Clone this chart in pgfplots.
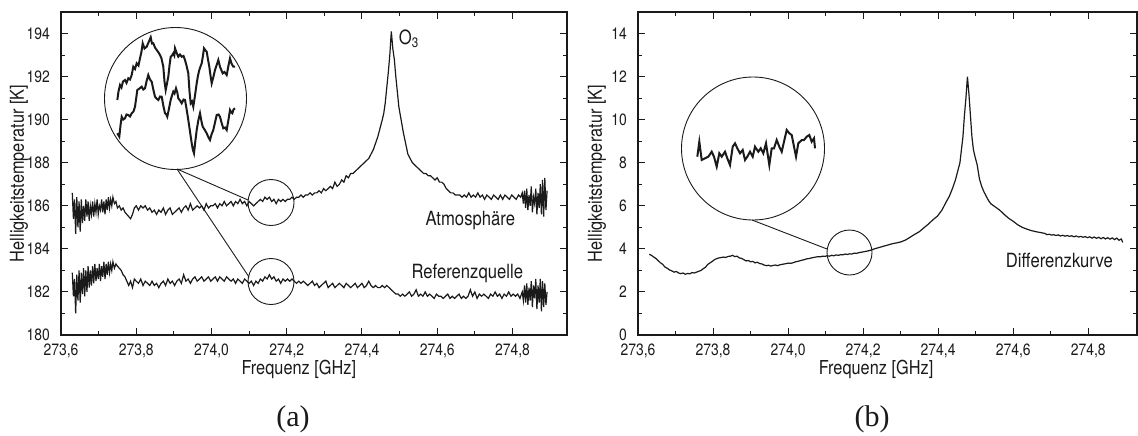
\documentclass[border=0pt]{standalone}
\usepackage{pgfplots}
\pgfplotsset{compat=1.18}
\usepackage{fontspec}
\setmainfont{TeX Gyre Heros}[FakeStretch=0.85]
\newfontfamily\seriffont{Liberation Serif}
\definecolor{ink}{HTML}{1A1A1A}
\pgfplotsset{
  panel/.style={
    scale only axis, anchor=south west,
    axis line style={line width=0.6pt, ink},
    every tick/.style={line width=0.5pt, ink},
    tick align=inside, major tick length=3.5pt, minor tick length=2pt,
    xtick pos=both, ytick pos=both,
    minor x tick num=1, minor y tick num=1,
    /pgf/number format/assume math mode=true,
    tick label style={font=\fontsize{8.2}{9}\selectfont, text=ink},
    yticklabel style={xshift=-2pt},
    xticklabel style={yshift=-1pt},
    label style={font=\fontsize{9.6}{11}\selectfont, text=ink},
    xmin=273.6, xmax=274.945,
    xtick={273.6,273.8,274.0,274.2,274.4,274.6,274.8},
    xticklabels={{273,6},{273,8},{274,0},{274,2},{274,4},{274,6},{274,8}},
    clip=true,
  },
  inset/.style={hide axis, scale only axis, anchor=south west, xmin=0, xmax=142, ymin=0, ymax=142, clip=false},
}
\begin{document}
\begin{tikzpicture}
\useasboundingbox (0,0) rectangle (569pt,217.5pt);
% ---------------- (a) ----------------
\begin{axis}[panel, at={(30.5pt,50pt)}, width=253pt, height=161.5pt,
  ymin=180, ymax=195, ytick={180,182,184,186,188,190,192,194},
  xlabel={Frequenz [GHz]}, ylabel={Helligkeitstemperatur [K]},
  xlabel style={at={(axis description cs:0.470,0)}, anchor=center, yshift=-17pt},
  ylabel style={at={(axis description cs:-0.083,0.5)}, anchor=center},
]
\addplot[ink, line width=0.6pt] coordinates {
(273.630,186.6)(273.633,185.4)(273.636,186.3)(273.639,184.7)(273.642,186.4)(273.645,185.0)(273.648,186.2)(273.651,184.8)
(273.654,186.3)(273.657,185.2)(273.660,186.0)(273.663,185.3)(273.666,186.3)(273.669,185.5)(273.672,186.2)(273.675,185.3)
(273.678,186.0)(273.681,185.6)(273.684,186.2)(273.687,185.5)(273.690,186.1)(273.693,185.7)(273.696,186.3)(273.699,185.6)
(273.702,186.0)(273.705,185.8)(273.708,186.3)(273.711,185.7)(273.714,186.2)(273.717,185.6)(273.720,186.3)(273.723,185.8)
(273.726,186.4)(273.729,185.9)(273.732,186.3)(273.735,186.0)(273.738,186.4)(273.742,186.1)(273.746,186.2)(273.750,185.9)
(273.755,186.0)(273.760,185.8)(273.765,185.9)(273.770,185.7)(273.775,185.6)(273.780,185.5)(273.785,185.4)(273.790,185.6)
(273.795,185.9)(273.800,186.0)(273.806,185.8)(273.812,186.0)(273.818,185.9)(273.824,186.0)(273.830,185.8)(273.836,185.9)
(273.842,185.7)(273.848,185.8)(273.854,185.6)(273.860,185.8)(273.866,185.7)(273.872,185.9)(273.878,185.6)(273.884,185.8)
(273.890,185.9)(273.896,185.6)(273.902,185.7)(273.908,185.8)(273.914,185.9)(273.920,185.7)(273.926,185.9)(273.932,186.0)
(273.938,185.8)(273.944,186.1)(273.950,185.8)(273.956,185.9)(273.962,186.0)(273.968,185.9)(273.974,186.0)(273.980,185.8)
(273.986,186.1)(273.992,185.9)(273.998,186.0)(274.004,186.0)(274.010,186.1)(274.016,185.9)(274.022,186.1)(274.028,186.0)
(274.034,186.2)(274.040,186.0)(274.046,186.1)(274.052,186.2)(274.058,186.0)(274.064,186.2)(274.070,186.1)(274.076,186.3)
(274.082,186.1)(274.088,186.2)(274.094,186.0)(274.100,186.2)(274.106,186.1)(274.112,186.0)(274.118,186.1)(274.124,186.2)
(274.130,186.3)(274.136,186.2)(274.142,186.4)(274.148,186.3)(274.154,186.4)(274.160,186.2)(274.166,186.3)(274.172,186.1)
(274.178,186.3)(274.184,186.2)(274.190,186.3)(274.196,186.2)(274.202,186.3)(274.208,186.3)(274.214,186.4)(274.220,186.3)
(274.226,186.4)(274.232,186.4)(274.238,186.5)(274.244,186.4)(274.250,186.5)(274.256,186.5)(274.262,186.6)(274.268,186.5)
(274.274,186.6)(274.280,186.6)(274.286,186.7)(274.292,186.6)(274.298,186.8)(274.304,186.7)(274.310,186.8)(274.316,186.9)
(274.322,186.8)(274.328,187.1)(274.334,186.9)(274.340,187.0)(274.346,187.2)(274.352,187.1)(274.358,187.4)(274.364,187.3)
(274.370,187.5)(274.376,187.5)(274.382,187.6)(274.388,187.7)(274.394,187.8)(274.400,187.9)(274.406,188.0)(274.412,188.1)
(274.418,188.2)(274.424,188.4)(274.430,188.6)(274.436,188.9)(274.442,189.2)(274.448,189.6)(274.454,190.0)(274.458,190.3)
(274.462,190.8)(274.466,191.5)(274.470,192.2)(274.474,193.0)(274.478,194.1)(274.482,193.3)(274.486,192.8)(274.490,192.0)
(274.494,191.3)(274.498,190.6)(274.502,190.2)(274.506,189.8)(274.510,189.4)(274.516,188.9)(274.522,188.4)(274.528,188.2)
(274.534,188.0)(274.540,187.9)(274.546,187.8)(274.552,187.7)(274.558,187.6)(274.564,187.5)(274.570,187.5)(274.576,187.4)
(274.582,187.4)(274.588,187.3)(274.594,187.2)(274.600,187.3)(274.606,187.1)(274.612,187.1)(274.618,187.0)(274.624,186.8)
(274.630,186.7)(274.636,186.6)(274.642,186.6)(274.648,186.5)(274.654,186.5)(274.660,186.5)(274.666,186.4)(274.672,186.5)
(274.678,186.4)(274.684,186.6)(274.690,186.4)(274.696,186.5)(274.702,186.4)(274.708,186.6)(274.714,186.4)(274.720,186.5)
(274.726,186.3)(274.732,186.5)(274.738,186.4)(274.744,186.3)(274.750,186.5)(274.756,186.4)(274.762,186.3)(274.768,186.5)
(274.774,186.3)(274.780,186.5)(274.786,186.4)(274.792,186.3)(274.798,186.5)(274.804,186.4)(274.810,186.3)(274.816,186.5)
(274.822,186.4)(274.826,186.6)(274.829,186.1)(274.832,186.7)(274.835,185.9)(274.838,186.8)(274.841,185.8)(274.844,186.5)
(274.847,186.0)(274.850,186.9)(274.853,185.7)(274.856,186.4)(274.859,186.1)(274.862,186.8)(274.865,185.6)(274.868,186.6)
(274.871,185.9)(274.874,187.0)(274.877,185.6)(274.880,187.2)(274.883,185.5)(274.886,187.3)(274.889,185.8)(274.892,186.7)
};
\addplot[ink, line width=0.6pt] coordinates {
(273.630,182.9)(273.633,181.8)(273.636,182.6)(273.639,181.0)(273.642,182.8)(273.645,181.6)(273.648,183.0)(273.651,181.5)
(273.654,182.9)(273.657,181.9)(273.660,183.1)(273.663,181.8)(273.666,183.0)(273.669,182.0)(273.672,183.2)(273.675,182.2)
(273.678,183.0)(273.681,182.3)(273.684,183.2)(273.687,182.4)(273.690,183.3)(273.693,182.5)(273.696,183.1)(273.699,182.6)
(273.702,183.3)(273.705,182.5)(273.708,183.2)(273.711,182.7)(273.714,183.4)(273.717,182.6)(273.720,183.3)(273.723,182.8)
(273.726,183.4)(273.729,182.9)(273.732,183.3)(273.735,183.0)(273.738,183.4)(273.742,183.1)(273.746,183.3)(273.750,183.2)
(273.755,183.1)(273.760,183.0)(273.765,182.8)(273.770,182.7)(273.775,182.5)(273.780,182.3)(273.785,182.5)(273.790,182.2)
(273.795,182.6)(273.800,182.5)(273.806,182.4)(273.812,182.6)(273.818,182.3)(273.824,182.5)(273.830,182.4)(273.836,182.3)
(273.842,182.5)(273.848,182.3)(273.854,182.4)(273.860,182.2)(273.866,182.4)(273.872,182.5)(273.878,182.3)(273.884,182.6)
(273.890,182.4)(273.896,182.5)(273.902,182.3)(273.908,182.5)(273.914,182.6)(273.920,182.4)(273.926,182.8)(273.932,182.5)
(273.938,182.6)(273.944,182.4)(273.950,182.6)(273.956,182.7)(273.962,182.5)(273.968,182.6)(273.974,182.7)(273.980,182.5)
(273.986,182.6)(273.992,182.7)(273.998,182.5)(274.004,182.6)(274.010,182.7)(274.016,182.5)(274.022,182.7)(274.028,182.6)
(274.034,182.5)(274.040,182.7)(274.046,182.6)(274.052,182.5)(274.058,182.6)(274.064,182.4)(274.070,182.6)(274.076,182.5)
(274.082,182.4)(274.088,182.6)(274.094,182.5)(274.100,182.4)(274.106,182.5)(274.112,182.3)(274.118,182.5)(274.124,182.4)
(274.130,182.6)(274.136,182.5)(274.142,182.7)(274.148,182.6)(274.154,182.8)(274.160,182.6)(274.166,182.7)(274.172,182.5)
(274.178,182.6)(274.184,182.4)(274.190,182.6)(274.196,182.5)(274.202,182.6)(274.208,182.5)(274.214,182.6)(274.220,182.5)
(274.226,182.4)(274.232,182.5)(274.238,182.4)(274.244,182.5)(274.250,182.4)(274.256,182.3)(274.262,182.4)(274.268,182.5)
(274.274,182.3)(274.280,182.4)(274.286,182.2)(274.292,182.3)(274.298,182.4)(274.304,182.5)(274.310,182.2)(274.316,182.3)
(274.322,182.4)(274.328,182.2)(274.334,182.3)(274.340,182.4)(274.346,182.3)(274.352,182.2)(274.358,182.4)(274.364,182.3)
(274.370,182.2)(274.376,182.3)(274.382,182.4)(274.388,182.2)(274.394,182.3)(274.400,182.4)(274.406,182.2)(274.412,182.3)
(274.418,182.5)(274.424,182.3)(274.430,182.2)(274.436,182.3)(274.442,182.2)(274.448,182.2)(274.454,182.3)(274.460,182.2)
(274.466,182.3)(274.472,182.2)(274.478,182.1)(274.484,182.0)(274.490,181.9)(274.496,181.9)(274.502,181.8)(274.508,181.9)
(274.514,181.8)(274.520,181.9)(274.526,182.0)(274.532,181.8)(274.538,181.9)(274.544,182.1)(274.550,181.8)(274.556,181.9)
(274.562,181.8)(274.568,182.0)(274.574,181.8)(274.580,181.9)(274.586,181.8)(274.592,181.7)(274.598,181.9)(274.604,181.8)
(274.610,181.8)(274.616,181.7)(274.622,181.8)(274.628,181.9)(274.634,181.7)(274.640,181.8)(274.646,181.7)(274.652,181.8)
(274.658,181.9)(274.664,181.7)(274.670,181.8)(274.676,181.7)(274.682,181.8)(274.688,182.1)(274.694,181.8)(274.700,182.0)
(274.706,181.7)(274.712,181.9)(274.718,181.8)(274.724,181.9)(274.730,181.8)(274.736,181.7)(274.742,181.9)(274.748,181.8)
(274.754,182.0)(274.760,181.8)(274.766,181.9)(274.772,181.7)(274.778,181.9)(274.784,181.8)(274.790,182.0)(274.796,181.8)
(274.802,181.9)(274.808,181.8)(274.814,181.9)(274.820,181.7)(274.826,182.0)(274.829,181.6)(274.832,182.3)(274.835,181.5)
(274.838,182.4)(274.841,181.4)(274.844,182.2)(274.847,181.6)(274.850,182.5)(274.853,181.3)(274.856,182.3)(274.859,181.7)
(274.862,182.6)(274.865,181.2)(274.868,182.3)(274.871,181.5)(274.874,182.6)(274.877,181.1)(274.880,182.5)(274.883,181.3)
(274.886,182.4)(274.889,181.4)(274.892,182.0)
};
\node[font=\fontsize{9.8}{11}\selectfont, text=ink] at (axis cs:274.688,185.30) {Atmosphäre};
\node[font=\fontsize{9.8}{11}\selectfont, text=ink] at (axis cs:274.680,182.88) {Referenzquelle};
\node[font=\fontsize{9.8}{11}\selectfont, text=ink, anchor=west, inner sep=0pt] at (axis cs:274.497,193.75) {O\textsubscript{3}};
\end{axis}
% magnifier (a)
\draw[ink, line width=0.45pt] (87.75pt,168.25pt) circle (35.5pt);
\draw[ink, line width=0.45pt] (135.5pt,116.25pt) circle (11.5pt);
\draw[ink, line width=0.45pt] (135.5pt,76.75pt) circle (11.5pt);
\draw[ink, line width=0.45pt] (88.5pt,133pt) -- (124pt,117.5pt);
\draw[ink, line width=0.45pt] (88.5pt,133pt) -- (124.5pt,79pt);
\begin{axis}[inset, at={(52.25pt,132.75pt)}, width=71pt, height=71pt]
\addplot[ink, line width=1pt] coordinates {
(12.8,69.5)(14.0,78.0)(15.5,84.5)(17.0,82.0)(18.5,88.0)(20.5,89.5)(22.0,86.5)(23.8,91.2)(25.5,90.0)(27.2,94.5)
(28.8,102.8)(30.5,100.5)(32.2,106.2)(34.0,104.0)(35.5,111.2)(37.0,118.0)(38.2,126.2)(40.0,121.0)(42.2,122.8)(44.0,127.0)
(46.2,132.2)(47.5,126.0)(48.8,126.2)(50.5,122.0)(52.2,119.5)(54.0,117.0)(55.5,114.5)(57.0,111.0)(58.8,102.8)(60.0,88.0)
(61.2,79.5)(62.5,86.0)(63.8,92.8)(65.0,104.0)(66.2,112.8)(67.5,114.0)(68.8,116.2)(69.8,114.0)(70.5,121.2)(72.0,117.0)
(73.8,112.8)(75.5,115.0)(77.2,112.8)(79.0,113.5)(80.5,109.5)(82.0,104.0)(83.8,96.2)(85.0,78.0)(86.2,66.2)(87.5,68.0)
(88.8,62.8)(90.5,74.0)(92.2,86.2)(93.5,94.0)(94.8,99.5)(96.0,103.0)(97.2,106.2)(98.5,114.0)(99.5,121.2)(101.0,119.0)
(102.2,117.8)(103.5,110.0)(104.8,102.8)(106.0,94.0)(107.2,86.2)(109.0,93.0)(110.5,99.5)(112.0,104.0)(113.8,109.5)(115.5,102.8)
(117.0,99.0)(118.2,96.2)(120.0,97.5)(122.2,94.5)(124.0,104.0)(125.5,111.2)(127.0,106.0)(128.8,102.8)(130.5,102.8)
};
\addplot[ink, line width=1pt] coordinates {
(12.8,36.2)(14.8,32.8)(16.0,44.0)(17.2,52.8)(18.8,50.0)(20.5,51.2)(22.0,55.0)(23.8,54.5)(25.5,53.0)(27.2,56.2)
(29.0,58.0)(30.5,62.8)(31.8,72.0)(32.8,79.5)(35.0,81.0)(37.2,82.8)(38.8,80.0)(40.5,81.2)(42.0,88.0)(43.8,94.5)
(45.5,90.0)(47.2,87.8)(48.8,80.0)(50.5,72.8)(52.0,71.0)(53.8,69.5)(55.5,73.0)(57.2,72.8)(58.8,64.0)(60.5,56.2)
(61.8,55.0)(62.8,52.8)(64.5,61.0)(66.2,69.5)(67.5,74.0)(68.8,77.8)(70.0,76.0)(71.5,81.2)(72.8,77.0)(73.8,71.2)
(75.5,69.0)(77.2,66.2)(79.0,70.0)(80.5,69.5)(82.0,61.0)(83.8,49.5)(85.5,38.0)(87.2,26.2)(88.3,20.0)(89.5,16.2)
(90.8,28.0)(92.2,39.5)(93.8,49.0)(95.5,56.2)(97.0,48.0)(98.2,42.8)(100.0,40.0)(102.2,36.2)(104.0,32.0)(105.5,29.5)
(107.0,35.0)(108.8,39.5)(110.5,47.0)(112.2,54.5)(114.0,55.0)(115.5,52.8)(117.0,47.0)(118.8,41.2)(120.5,42.0)(122.2,39.5)
(124.0,50.0)(125.5,59.5)(126.8,57.0)(127.8,56.2)(129.0,60.0)(130.5,61.2)
};
\end{axis}
% ---------------- (b) ----------------
\begin{axis}[panel, at={(319pt,50pt)}, width=249.5pt, height=161.5pt,
  xmax=274.93,
  ymin=0, ymax=15, ytick={0,2,4,6,8,10,12,14},
  xlabel={Frequenz [GHz]}, ylabel={Helligkeitstemperatur [K]},
  xlabel style={at={(axis description cs:0.477,0)}, anchor=center, yshift=-17pt},
  ylabel style={at={(axis description cs:-0.082,0.5)}, anchor=center},
]
\addplot[ink, line width=0.6pt] coordinates {
(273.630,3.75)(273.636,3.70)(273.642,3.62)(273.648,3.55)(273.654,3.45)(273.660,3.35)(273.666,3.28)(273.672,3.15)
(273.678,3.10)(273.684,3.02)(273.690,2.98)(273.696,2.92)(273.702,2.95)(273.708,2.88)(273.714,2.85)(273.720,2.88)
(273.726,2.82)(273.732,2.86)(273.738,2.84)(273.744,2.90)(273.750,2.88)(273.756,2.92)(273.762,2.96)(273.768,3.00)
(273.774,3.08)(273.780,3.15)(273.786,3.28)(273.792,3.35)(273.798,3.42)(273.804,3.50)(273.810,3.55)(273.816,3.58)
(273.822,3.60)(273.828,3.62)(273.834,3.60)(273.840,3.65)(273.846,3.66)(273.852,3.70)(273.858,3.64)(273.864,3.66)
(273.870,3.58)(273.876,3.56)(273.882,3.50)(273.888,3.44)(273.894,3.46)(273.900,3.40)(273.906,3.42)(273.912,3.35)
(273.918,3.38)(273.924,3.32)(273.930,3.30)(273.936,3.25)(273.942,3.22)(273.948,3.24)(273.954,3.20)(273.960,3.23)
(273.966,3.25)(273.972,3.22)(273.978,3.26)(273.984,3.28)(273.990,3.30)(273.996,3.32)(274.002,3.34)(274.008,3.33)
(274.014,3.36)(274.020,3.40)(274.026,3.42)(274.032,3.45)(274.038,3.48)(274.044,3.50)(274.050,3.54)(274.056,3.55)
(274.062,3.58)(274.068,3.60)(274.074,3.62)(274.080,3.64)(274.086,3.63)(274.092,3.66)(274.098,3.65)(274.104,3.68)
(274.110,3.66)(274.116,3.70)(274.122,3.68)(274.128,3.72)(274.134,3.70)(274.140,3.73)(274.146,3.72)(274.152,3.76)
(274.158,3.74)(274.164,3.77)(274.170,3.76)(274.176,3.80)(274.182,3.79)(274.188,3.82)(274.194,3.84)(274.200,3.86)
(274.206,3.88)(274.212,3.90)(274.218,3.93)(274.224,3.96)(274.230,4.00)(274.242,4.06)(274.254,4.12)(274.266,4.18)
(274.278,4.24)(274.290,4.28)(274.302,4.33)(274.314,4.42)(274.326,4.55)(274.338,4.68)(274.350,4.80)(274.362,4.98)
(274.374,5.15)(274.386,5.35)(274.398,5.52)(274.410,5.80)(274.422,6.20)(274.430,6.45)(274.438,6.80)(274.446,7.20)
(274.452,7.60)(274.458,8.00)(274.462,8.60)(274.466,9.20)(274.470,10.20)(274.474,11.00)(274.478,12.00)(274.482,11.20)
(274.486,10.20)(274.490,9.20)(274.494,8.60)(274.498,8.30)(274.504,7.90)(274.510,7.25)(274.516,6.90)(274.522,6.65)
(274.528,6.45)(274.534,6.25)(274.540,6.10)(274.552,5.95)(274.564,5.80)(274.576,5.60)(274.588,5.42)(274.600,5.28)
(274.612,5.12)(274.624,5.00)(274.636,4.92)(274.648,4.85)(274.660,4.80)(274.672,4.76)(274.684,4.72)(274.690,4.66)
(274.696,4.68)(274.702,4.64)(274.708,4.66)(274.714,4.62)(274.720,4.65)(274.726,4.60)(274.732,4.63)(274.738,4.59)
(274.744,4.62)(274.750,4.58)(274.756,4.61)(274.762,4.56)(274.768,4.60)(274.774,4.55)(274.780,4.58)(274.786,4.54)
(274.792,4.57)(274.798,4.52)(274.804,4.56)(274.810,4.50)(274.816,4.55)(274.822,4.49)(274.828,4.54)(274.834,4.47)
(274.840,4.53)(274.846,4.46)(274.852,4.52)(274.858,4.45)(274.864,4.51)(274.870,4.43)(274.876,4.50)(274.882,4.40)
(274.888,4.46)(274.892,4.30)
};
\node[font=\fontsize{9.8}{11}\selectfont, text=ink] at (axis cs:274.723,3.48) {Differenzkurve};
\end{axis}
% magnifier (b)
\draw[ink, line width=0.45pt] (376.5pt,143.25pt) circle (35.75pt);
\draw[ink, line width=0.45pt] (424.75pt,91.25pt) circle (11.25pt);
\draw[ink, line width=0.45pt] (376pt,107.5pt) -- (413.5pt,93pt);
\begin{axis}[inset, at={(340.75pt,107.5pt)}, width=71.5pt, height=71.5pt, xmax=143, ymax=143]
\addplot[ink, line width=1pt] coordinates {
(15.8,63.3)(17.8,78.3)(20.2,60.0)(23.5,61.7)(26.8,63.3)(30.2,68.3)(32.5,63.3)(35.2,53.3)(37.8,66.7)(40.2,63.3)
(43.5,68.3)(45.8,61.7)(48.5,55.0)(51.2,73.3)(53.5,76.7)(55.8,71.7)(58.5,66.7)(61.2,70.0)(63.5,60.0)(65.8,63.3)
(68.5,68.3)(71.2,63.3)(73.5,73.3)(76.8,68.3)(79.2,71.7)(81.8,66.7)(84.5,76.7)(87.8,55.0)(90.2,71.7)(92.5,71.7)
(95.2,80.0)(97.8,73.3)(100.2,68.3)(102.5,78.3)(105.2,90.0)(107.8,86.7)(110.2,85.0)(112.5,73.3)(114.5,63.3)(116.8,76.7)
(120.2,80.0)(122.5,80.0)(125.2,83.3)(127.8,85.0)(130.2,78.3)(132.5,81.7)(133.5,71.7)
};
\end{axis}
% panel captions
\node[font=\seriffont\fontsize{15}{17}\selectfont, text=ink] at (146.5pt,8pt) {(a)};
\node[font=\seriffont\fontsize{15}{17}\selectfont, text=ink] at (436pt,8pt) {(b)};
\end{tikzpicture}
\end{document}
